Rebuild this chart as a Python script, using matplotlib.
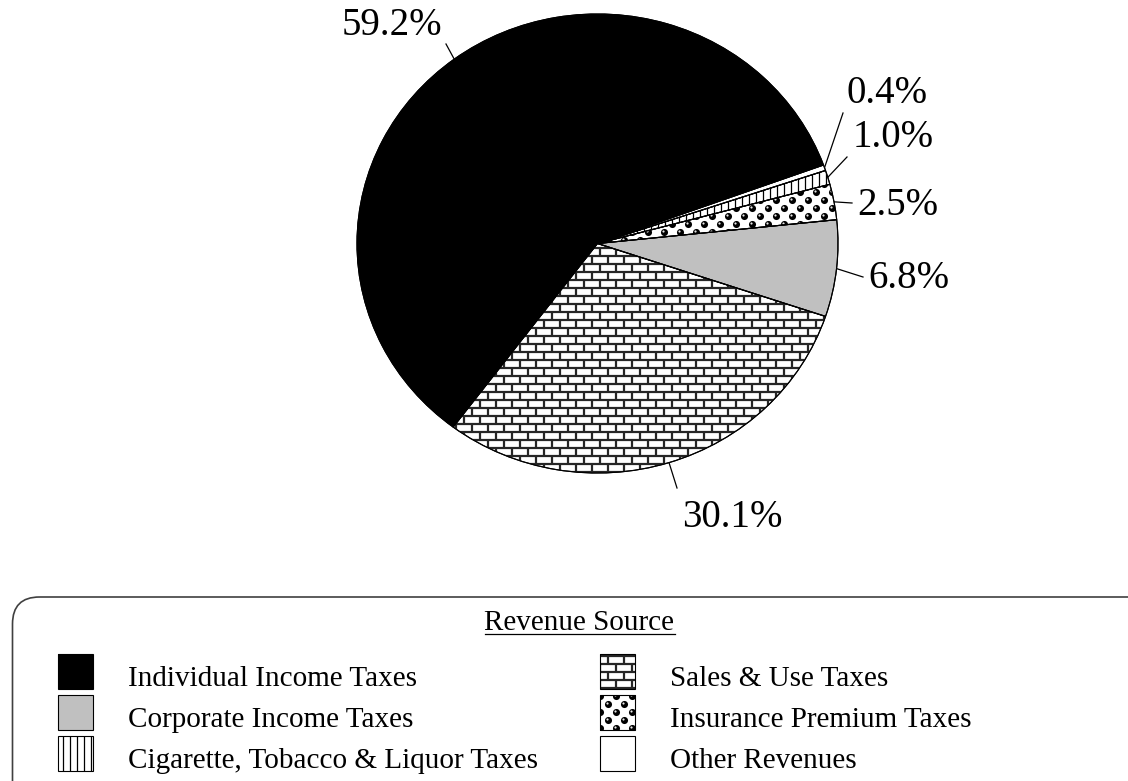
import matplotlib.pyplot as plt
from matplotlib.patches import Rectangle, FancyBboxPatch, Wedge
from matplotlib.collections import LineCollection
import numpy as np

plt.rcParams['font.family'] = ['Liberation Serif', 'DejaVu Serif']

# revenue shares, in the order the slices run counter-clockwise
sources = ['Individual Income Taxes', 'Sales & Use Taxes', 'Corporate Income Taxes',
           'Insurance Premium Taxes', 'Cigarette, Tobacco & Liquor Taxes', 'Other Revenues']
shares = [59.2, 30.1, 6.8, 2.5, 1.0, 0.4]
fills = ['black', 'brick', 'gray', 'dots', 'stripes', 'white']

# legend columns
legend_left = ['Individual Income Taxes', 'Corporate Income Taxes', 'Cigarette, Tobacco & Liquor Taxes']
legend_right = ['Sales & Use Taxes', 'Insurance Premium Taxes', 'Other Revenues']

# label text anchors (left, baseline) and leader line ends, in pixels
label_xy = [(342, 35), (682, 527), (868, 288), (857, 215), (853, 147), (847, 103)]
leader_end = [(446, 44), (677, 488), (863, 277), (852, 203), (847, 157), (843, 113)]

W, H = 1128, 781
fig = plt.figure(figsize=(W / 100, H / 100), dpi=100)

over = fig.add_axes([0, 0, 1, 1])
over.set_xlim(0, W)
over.set_ylim(H, 0)
over.axis('off')

cx, cy, rx, ry = 597.5, 243.5, 240.5, 229.5
pad = 1.05
ax = fig.add_axes([(cx - rx * pad) / W, (H - cy - ry * pad) / H, 2 * rx * pad / W, 2 * ry * pad / H])

face = {'black': 'black', 'brick': 'white', 'gray': '#c0c0c0',
        'dots': 'white', 'stripes': 'white', 'white': 'white'}


def brick_segments(x0, y0, x1, y1, bw=16, bh=8):
    segs = []
    for y in np.arange(np.floor(y0 / bh) * bh, y1 + bh, bh):
        segs.append([(x0, y), (x1, y)])
        off = (int(round(y / bh)) % 2) * bw / 2
        for x in np.arange(np.floor(x0 / bw) * bw - bw + off, x1 + bw, bw):
            segs.append([(x, y), (x, y + bh)])
    return segs


def stripe_segments(x0, y0, x1, y1, step=7):
    return [[(x, y0), (x, y1)] for x in np.arange(np.floor(x0 / step) * step, x1 + step, step)]


def dot_centres(x0, y0, x1, y1, dx=16, dy=8):
    xs, ys = [], []
    for y in np.arange(np.floor(y0 / dy) * dy, y1 + dy, dy):
        off = (int(round(y / dy)) % 2) * dx / 2
        for x in np.arange(np.floor(x0 / dx) * dx - dx + off, x1 + dx, dx):
            xs.append(x)
            ys.append(y)
    return np.array(xs), np.array(ys)


def add_pattern(host, kind, clip, bounds, z):
    if kind == 'brick':
        lc = LineCollection(brick_segments(*bounds), colors='#262626', linewidths=1.6,
                            transform=over.transData, zorder=z)
        host.add_collection(lc, autolim=False)
        lc.set_clip_path(clip)
    elif kind == 'stripes':
        lc = LineCollection(stripe_segments(*bounds), colors='black', linewidths=0.9,
                            transform=over.transData, zorder=z)
        host.add_collection(lc, autolim=False)
        lc.set_clip_path(clip)
    elif kind == 'dots':
        xs, ys = dot_centres(*bounds)
        d = host.scatter(xs, ys, s=26, c='black', linewidths=0, transform=over.transData, zorder=z)
        d.set_clip_path(clip)
        hl = host.scatter(xs - 0.7, ys - 0.7, s=2.5, c='#e8e8e8', linewidths=0,
                          transform=over.transData, zorder=z + 0.1)
        hl.set_clip_path(clip)


wedges, _ = ax.pie(shares, colors=[face[f] for f in fills], startangle=20, counterclock=True,
                   radius=1, wedgeprops=dict(edgecolor='black', linewidth=0.8))
pie_box = (cx - rx - 2, cy - ry - 2, cx + rx + 2, cy + ry + 2)
for w, kind in zip(wedges, fills):
    add_pattern(ax, kind, w, pie_box, 2)
    ax.add_patch(Wedge(w.center, w.r, w.theta1, w.theta2, fill=False,
                       edgecolor='black', linewidth=0.8, zorder=3))
ax.set_aspect('auto')
ax.set_xlim(-pad, pad)
ax.set_ylim(-pad, pad)
ax.axis('off')

# percentage labels with leader lines from the middle of each slice
to_over = over.transData.inverted()
for w, v, (tx, ty), (lx, ly) in zip(wedges, shares, label_xy, leader_end):
    mid = np.deg2rad((w.theta1 + w.theta2) / 2)
    rim = to_over.transform(ax.transData.transform((np.cos(mid), np.sin(mid))))
    over.plot([rim[0], lx], [rim[1], ly], color='black', lw=0.9)
    over.text(tx, ty, f'{v:.1f}%', fontsize=28, ha='left', va='baseline')

# legend frame
over.add_patch(FancyBboxPatch((12.5, 597), 1300, 300, boxstyle='round,pad=0,rounding_size=27',
                              facecolor='none', edgecolor='#404040', linewidth=1.2, clip_on=False))
title = over.text(579.5, 630, 'Revenue Source', fontsize=21, ha='center', va='baseline')
fig.canvas.draw()
bb = title.get_window_extent(fig.canvas.get_renderer())
(ux0, _), (ux1, _) = to_over.transform([(bb.x0, bb.y0), (bb.x1, bb.y0)])
over.plot([ux0, ux1], [634, 634], color='black', lw=0.9)

row_top = [654, 695, 736]
for col_x, text_x, names in [(58, 128, legend_left), (600, 670, legend_right)]:
    for top, name in zip(row_top, names):
        kind = fills[sources.index(name)]
        rect = Rectangle((col_x, top), 35, 35, facecolor=face[kind], edgecolor='none', zorder=2)
        over.add_patch(rect)
        add_pattern(over, kind, rect, (col_x - 2, top - 2, col_x + 37, top + 37), 2.5)
        over.add_patch(Rectangle((col_x, top), 35, 35, fill=False, edgecolor='black',
                                 linewidth=0.8, zorder=3))
        over.text(text_x, top + 32, name, fontsize=21, ha='left', va='baseline')

fig.savefig('out.png', dpi=100)
